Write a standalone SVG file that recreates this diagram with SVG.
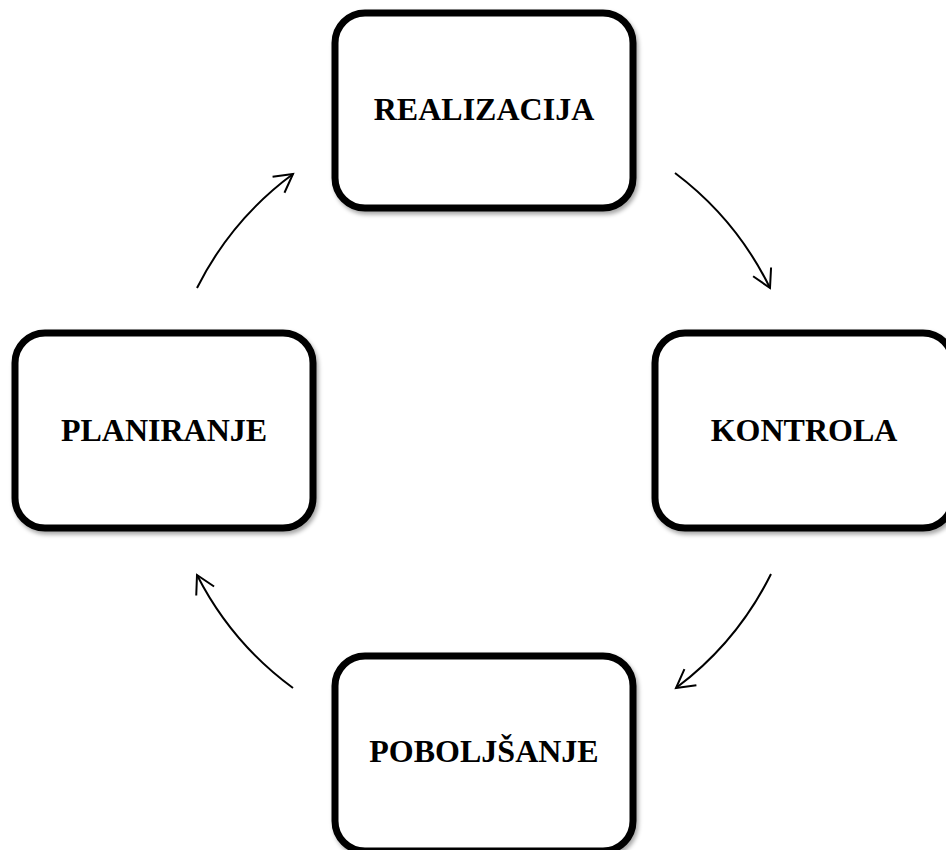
<svg xmlns="http://www.w3.org/2000/svg" width="946" height="850" viewBox="0 0 946 850">
<style>
.box{fill:#ffffff;stroke:#000000;stroke-width:7;filter:url(#sh)}
.lbl{font-family:"Liberation Serif","Times New Roman",serif;font-weight:bold;font-size:32px;fill:#000000;text-anchor:middle}
.arc{fill:none;stroke:#000000;stroke-width:2;marker-end:url(#ah)}
</style>
<defs>
<filter id="sh" x="-10%" y="-10%" width="130%" height="130%">
<feDropShadow dx="2" dy="3" stdDeviation="2" flood-color="#000000" flood-opacity="0.35"/>
</filter>
<marker id="ah" markerUnits="userSpaceOnUse" markerWidth="30" markerHeight="30" viewBox="-22 -15 30 30" refX="0" refY="0" orient="auto">
<path d="M -18 -10 L 0 0 L -18 10" fill="none" stroke="#000000" stroke-width="2" stroke-linejoin="miter"/>
</marker>
</defs>
<rect width="946" height="850" fill="#ffffff"/>
<g id="connectors">
<path class="arc" d="M 197 288 A 320 320 0 0 1 293 174"/>
<path class="arc" d="M 675 173 A 320 320 0 0 1 770 288"/>
<path class="arc" d="M 771 574 A 320 320 0 0 1 676 688"/>
<path class="arc" d="M 293 688 A 320 320 0 0 1 197 575"/>
</g>
<g id="realizacija">
<rect class="box" x="335" y="13" width="298" height="195" rx="30" ry="30"/>
<text class="lbl" x="484" y="120">REALIZACIJA</text>
</g>
<g id="planiranje">
<rect class="box" x="15" y="333" width="298" height="195" rx="30" ry="30"/>
<text class="lbl" x="164" y="441">PLANIRANJE</text>
</g>
<g id="kontrola">
<rect class="box" x="655" y="333" width="298" height="195" rx="30" ry="30"/>
<text class="lbl" x="804" y="441">KONTROLA</text>
</g>
<g id="poboljsanje">
<rect class="box" x="335" y="656" width="298" height="195" rx="30" ry="30"/>
<text class="lbl" x="484" y="762">POBOLJŠANJE</text>
</g>
</svg>
